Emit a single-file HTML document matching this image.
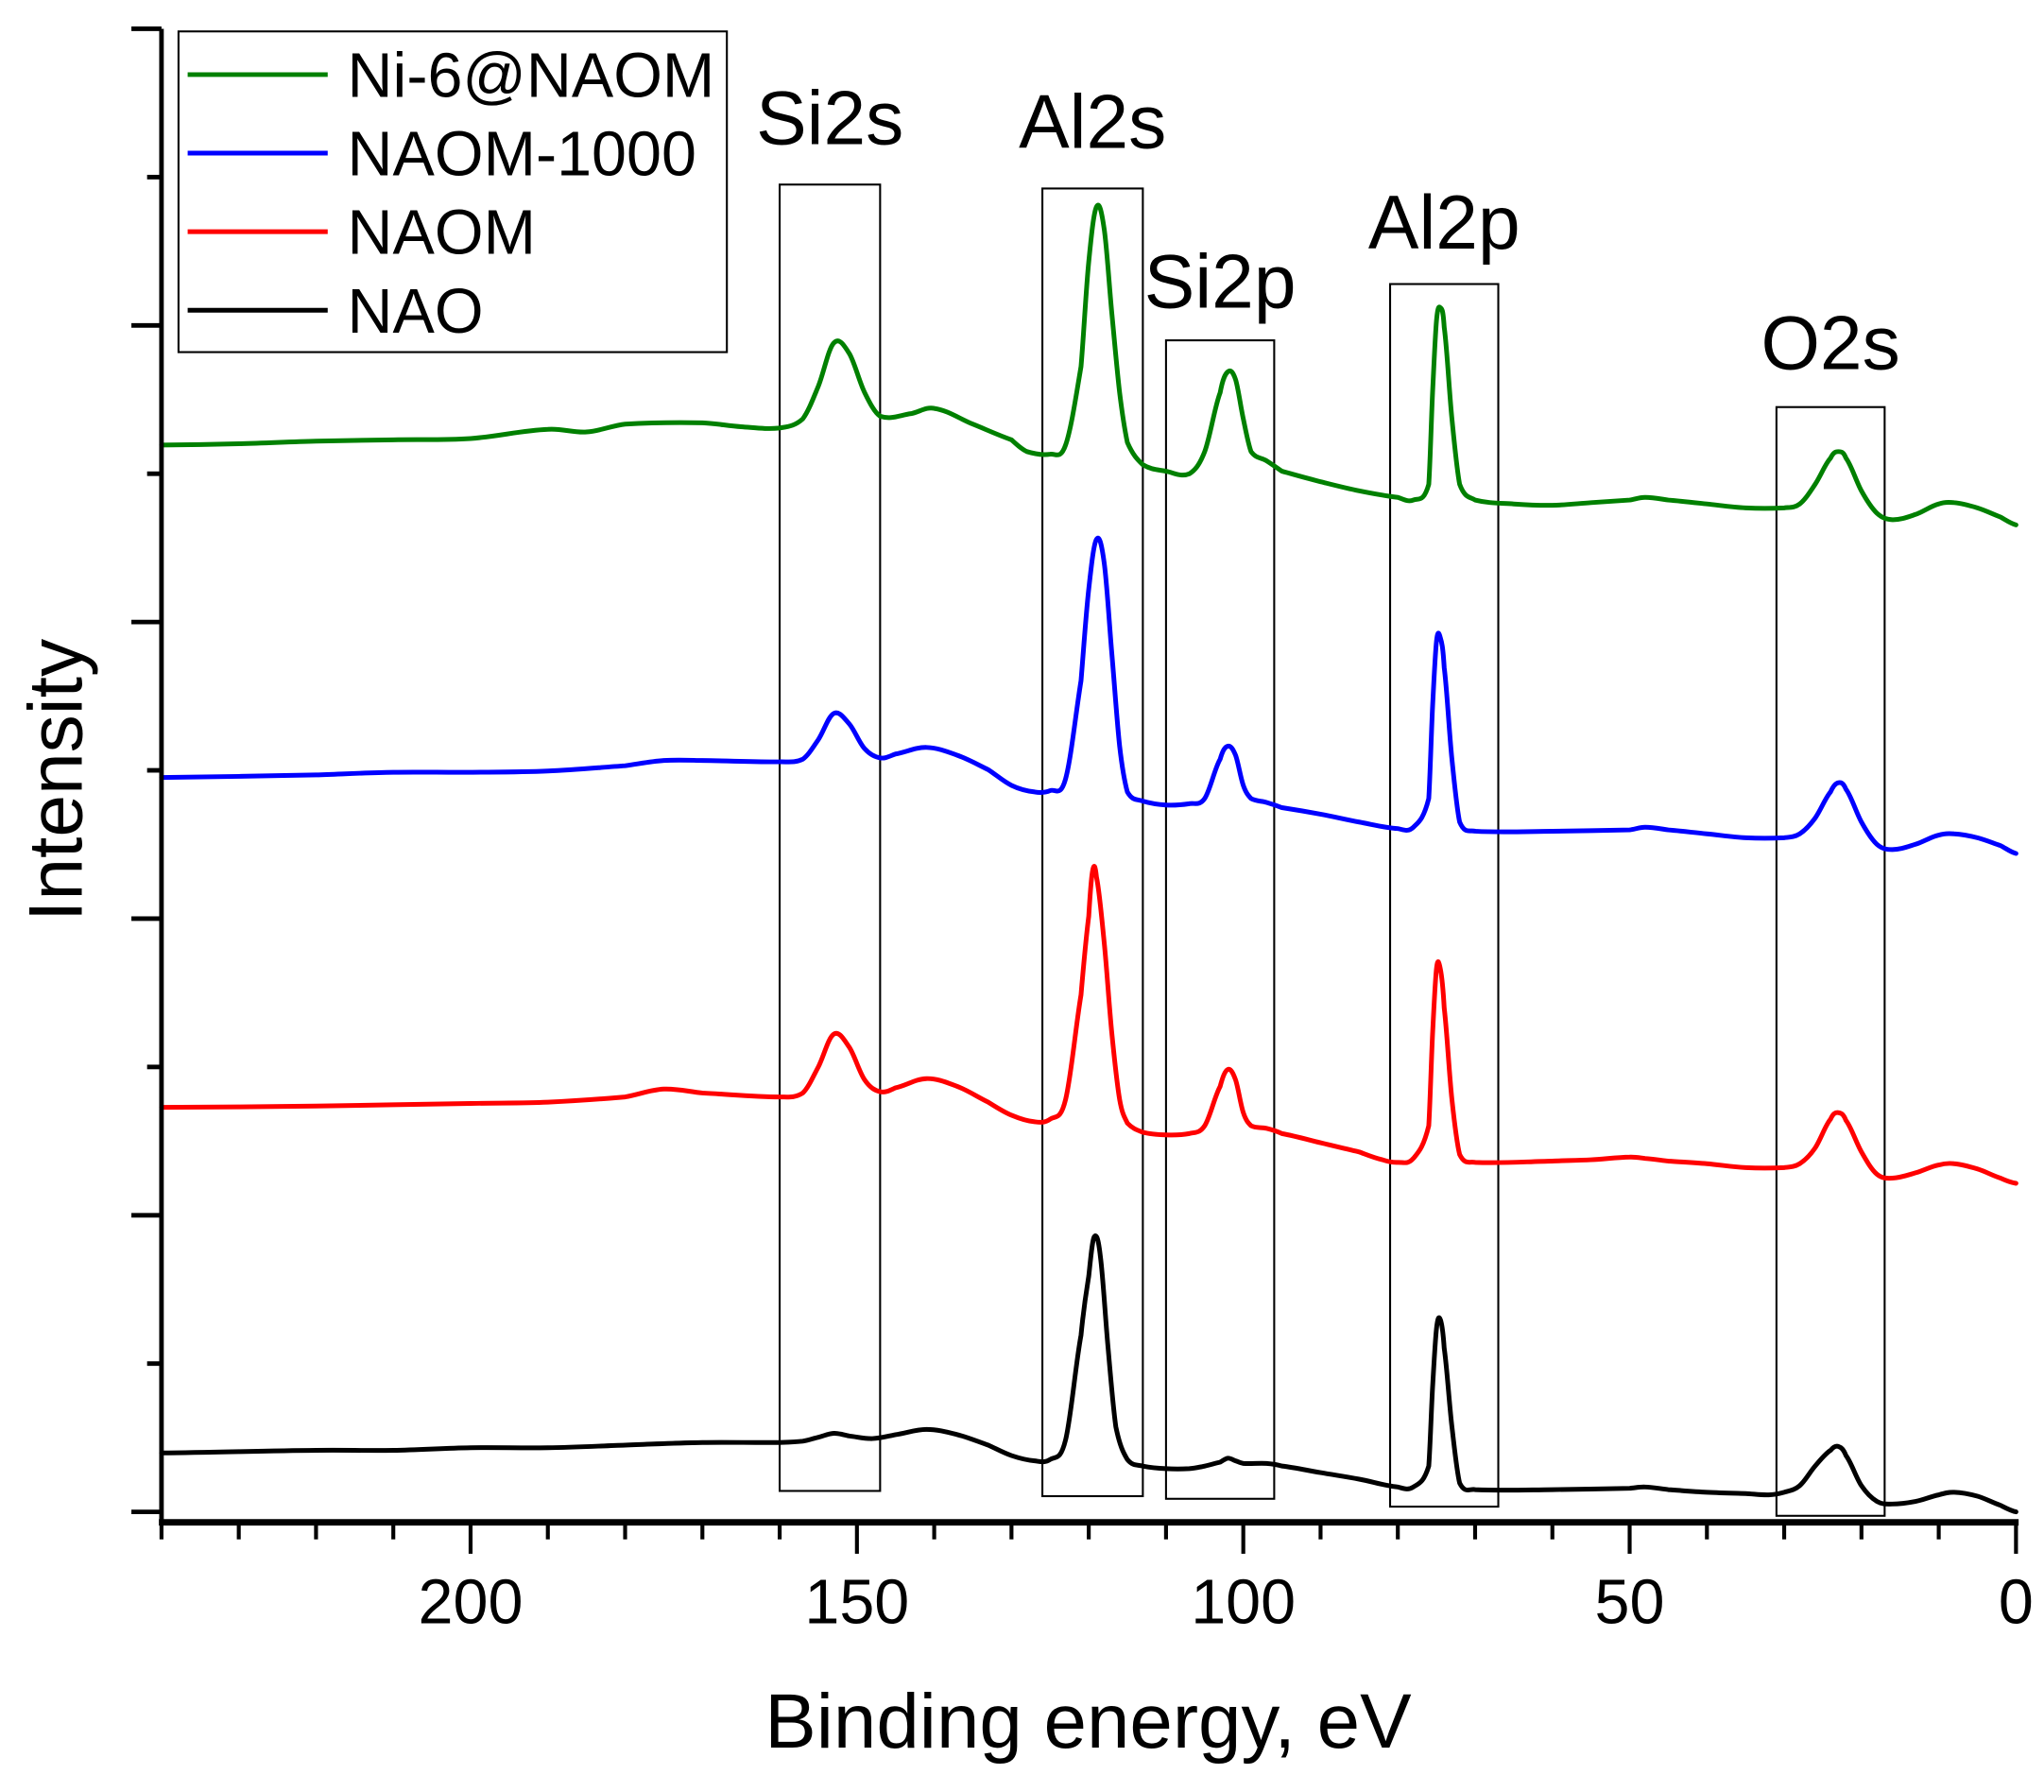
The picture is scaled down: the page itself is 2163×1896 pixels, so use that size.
<!DOCTYPE html>
<html><head><meta charset="utf-8"><style>
html,body{margin:0;padding:0;background:#fff;}
svg{display:block;font-family:"Liberation Sans",Arial,sans-serif;}
</style></head><body>
<svg id="chart" width="2163" height="1896" viewBox="0 0 1561 1369" xmlns="http://www.w3.org/2000/svg">
<g id="boxes"></g>
<g id="series"></g>
<g id="axes"></g>
<text x="0" y="0" transform="translate(62,596) rotate(-90)" text-anchor="middle" font-size="58">Intensity</text>
<text x="831" y="1335" text-anchor="middle" font-size="59">Binding energy, eV</text>
<g>
<rect x="136" y="24" width="419" height="245" fill="#fff" stroke="#000" stroke-width="1.5"/>
<line x1="143" y1="57" x2="250" y2="57" stroke="#008000" stroke-width="3.6"/>
<text x="265" y="74" font-size="48">Ni-6@NAOM</text>
<line x1="143" y1="117" x2="250" y2="117" stroke="#0000ff" stroke-width="3.6"/>
<text x="265" y="134" font-size="48">NAOM-1000</text>
<line x1="143" y1="177" x2="250" y2="177" stroke="#ff0000" stroke-width="3.6"/>
<text x="265" y="194" font-size="48">NAOM</text>
<line x1="143" y1="237" x2="250" y2="237" stroke="#000" stroke-width="3.6"/>
<text x="265" y="254" font-size="48">NAO</text>
</g>
</svg>
<script>
const xTicks = [200,150,100,50,0];
const peakNames = ["Si2s","Al2s","Si2p","Al2p","O2s"];
const peakLo = [147,113,96,67,17];
const peakHi = [160,126,110,81,31];
const peakTop = [1022,1019,903,946,852];
const peakBottom = [24,20,18,12,5];

const eGreen = [240,230,220,210,200,190,185,180,170,165,160,157,155,153,151,149,147,143,140,135,130,128,125,123,121,120,119,118,117,116,115,113,110,107,105,103,102,101,100,99,97,95,90,85,80,78,76,75.5,75,74.5,74,73,72,70,65,60,55,50,48,45,40,35,30,28,26,24,23,22,20,18,16,13,10,8,5,2,0];
const vGreen = [823,824,826,827,828,835,833,839,840,837,836,843,868,901,893,863,845,847,851,839,827,818,816,823,883,963,1005,988,923,863,825,808,803,801,818,863,879,873,843,818,811,803,795,788,783,781,793,863,918,928,913,843,793,781,778,777,779,781,783,781,778,775,775,778,793,813,818,813,788,771,766,770,778,779,775,768,762];

const eBlue = [240,220,210,200,190,180,175,170,160,157,155,153,151,149,147,145,141,137,133,130,127,125,123,121,120,119,118,117,116,115,113,110,107,105,103,102,101,100,99,97,95,90,85,80,78,76,75.5,75,74.5,74,73,72,70,60,50,48,45,40,35,30,28,26,24,23,22,20,18,16,13,10,8,5,2,0];
const vBlue = [569,571,573,573,574,578,582,582,581,583,598,618,610,591,584,587,592,586,575,563,558,559,568,643,713,751,733,663,593,558,551,548,549,553,583,593,586,563,553,550,546,541,535,530,531,553,623,673,676,653,583,535,528,528,529,531,529,526,523,523,526,538,558,565,560,535,518,514,518,525,526,523,517,511];

const eRed = [240,220,200,190,180,175,170,160,157,155,153,151,149,147,145,141,137,133,130,127,125,123,121,120,119.5,119,118,117,116,115,113,110,107,105,103,102,101,100,99,97,95,90,85,82,80,78,76,75.5,75,74.5,74,73,72,70,60,55,50,48,45,40,35,30,28,26,24,23,22,20,18,16,13,10,8,5,2,0];
const vRed = [317,318,320,321,325,331,328,325,328,348,373,363,338,329,332,339,333,321,311,306,308,323,403,463,498,493,443,373,323,305,298,296,297,303,333,346,338,313,303,301,297,290,283,277,275,278,303,373,423,423,393,323,281,275,276,277,279,278,276,274,271,271,274,286,308,313,307,283,266,263,267,273,274,270,263,259];

const eBlack = [240,220,210,200,190,180,170,160,157,155,153,151,148,145,141,137,133,130,127,125,123,121,120,119.3,118.5,117.5,116.5,115,113,110,107,105,103,102,101,100,97,95,90,85,80,78,76,75.5,75,74.5,74,73,72,70,60,50,48,45,40,35,32,30,28,26,24,23,22,20,18,16,13,10,8,5,2,0];
const vBlack = [53,55,55,57,57,59,61,61,62,65,68,66,64,67,71,67,59,51,47,48,63,143,188,218,203,133,73,48,43,41,41,43,46,49,47,45,45,43,38,33,27,27,43,103,148,155,133,73,30,25,25,26,27,25,23,22,21,23,28,43,55,58,51,28,16,14,16,21,23,20,13,8];

const X0=123, X1=1540, Y0=1163, Y1=22;
const xDomain=[240,0], yDomain=[0,1141];
function xs(e){return X0+(e-xDomain[0])/(xDomain[1]-xDomain[0])*(X1-X0);}
function ys(v){return Y0-(v-yDomain[0])/(yDomain[1]-yDomain[0])*(Y0-Y1);}
const NS="http://www.w3.org/2000/svg";
function mk(tag,attrs,parent){const el=document.createElementNS(NS,tag);for(const k in attrs)el.setAttribute(k,attrs[k]);parent.appendChild(el);return el;}

const boxes=document.getElementById('boxes');
const labelY=[110,113,235,190,282];
peakNames.forEach((n,i)=>{
  const x1=xs(peakHi[i]), x2=xs(peakLo[i]);
  const r=mk('rect',{x:x1,y:ys(peakTop[i]),width:x2-x1,height:ys(peakBottom[i])-ys(peakTop[i]),fill:'none',stroke:'#000','stroke-width':1.5},boxes);
  
  
  const t=mk('text',{x:(x1+x2)/2,y:labelY[i],'text-anchor':'middle','font-size':58},boxes);
  t.textContent=n;
  
  
});

const series=document.getElementById('series');
function drawLine(E,V,color,name){
  const n=Math.min(E.length,V.length);
  const P=[];
  for(let i=0;i<n;i++)P.push([xs(E[i]),ys(V[i])]);
  let d='M'+P[0][0].toFixed(1)+','+P[0][1].toFixed(1);
  const t=0.35;
  for(let i=0;i<n-1;i++){
    const p0=P[Math.max(0,i-1)],p1=P[i],p2=P[i+1],p3=P[Math.min(n-1,i+2)];
    const c1x=p1[0]+(p2[0]-p0[0])*t/2*(p2[0]-p1[0])/Math.max(1e-6,(p2[0]-p0[0])/2)*1, c1y=p1[1]+(p2[1]-p0[1])*t/2;
    const c2x=p2[0]-(p3[0]-p1[0])*t/2*(p2[0]-p1[0])/Math.max(1e-6,(p3[0]-p1[0])/2)*1, c2y=p2[1]-(p3[1]-p1[1])*t/2;
    d+='C'+c1x.toFixed(1)+','+c1y.toFixed(1)+' '+c2x.toFixed(1)+','+c2y.toFixed(1)+' '+p2[0].toFixed(1)+','+p2[1].toFixed(1);
  }
  const p=mk('path',{d:d,fill:'none',stroke:color,'stroke-width':3.6,'stroke-linejoin':'round','stroke-linecap':'round'},series);
  
  
}
drawLine(eBlack,vBlack,'#000000','series-nao');
drawLine(eRed,vRed,'#ff0000','series-naom');
drawLine(eBlue,vBlue,'#0000ff','series-naom-1000');
drawLine(eGreen,vGreen,'#008000','series-ni6-naom');

const axes=document.getElementById('axes');
const xa=mk('line',{x1:X0-2,y1:Y0,x2:X1+2,y2:Y0,stroke:'#000','stroke-width':5},axes);


const ya=mk('line',{x1:X0,y1:Y1,x2:X0,y2:Y0,stroke:'#000','stroke-width':3.5},axes);


for(let e=240;e>=0;e-=10){
  const major=(e%50===0);
  const tk=mk('line',{x1:xs(e),y1:Y0,x2:xs(e),y2:Y0+(major?24:13),stroke:'#000','stroke-width':3},axes);
  
  
}
xTicks.forEach(t=>{
  const tx=mk('text',{x:xs(t),y:1240,'text-anchor':'middle','font-size':48},axes);
  tx.textContent=String(t);
  
  
});
for(let k=0;k<=10;k++){
  const y=Y1+k*(1155-Y1)/10;
  const major=(k%2===0);
  const tk=mk('line',{x1:X0,y1:y,x2:X0-(major?23:11),y2:y,stroke:'#000','stroke-width':3.5},axes);
  
  
}
</script>
</body></html>
